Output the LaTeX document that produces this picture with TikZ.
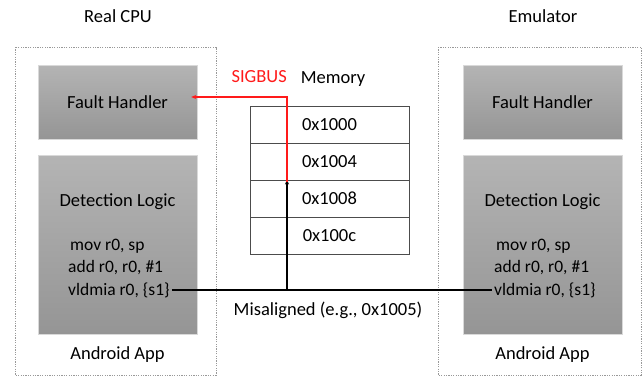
\documentclass[tikz,border=0pt]{standalone}
\usepackage{fontspec}
\setmainfont{Carlito}
\usetikzlibrary{arrows.meta,positioning}
\definecolor{boxtop}{HTML}{B4B4B4}
\definecolor{boxbot}{HTML}{959595}
\definecolor{sigred}{HTML}{FF1A1A}
\tikzset{>={Stealth[length=5pt,width=4pt]}}
\tikzset{
  cpubox/.style={draw=gray!80,dash pattern=on 1.2pt off 1.2pt,line width=0.8pt},
  unit/.style={draw=gray!30,top color=boxtop,bottom color=boxbot,minimum width=159pt,inner sep=0pt},
  cell/.style={draw=gray!60!black,line width=1pt,minimum width=159pt,minimum height=37pt,inner sep=0pt,font=\fontsize{18.5}{20}\selectfont},
  lbl/.style={font=\fontsize{18.5}{20}\selectfont},
  code/.style={anchor=west,inner sep=0pt,font=\fontsize{17.5}{19}\selectfont}
}
\begin{document}
\begin{tikzpicture}[x=1pt,y=-1pt]
    \useasboundingbox (0,0) rectangle (642,376);
%   real cpu side
    \draw[cpubox] (15,47) rectangle (216,375);
    \node[lbl] (titleL) at (118,16) {Real CPU};
    \node[unit,minimum height=74pt] (fhL) at (117.5,102) {};
    \node[lbl] at (fhL) {Fault Handler};
    \node[unit,minimum height=179pt] (dlL) at (117.5,244.5) {};
    \node[lbl] (dlLt) at (117.5,202) {Detection Logic};
    \node[code] (codeL1) at (70,246) {mov r0, sp};
    \node[code] (codeL2) at (68,268) {add r0, r0, \#1};
    \node[code] (codeL3) at (68,290) {vldmia r0, \{s1\}};
    \node[lbl] (appL) at (117.5,355) {Android App};
%   emulator side
    \draw[cpubox] (438,47) rectangle (641,375);
    \node[lbl] (titleR) at (543,16) {Emulator};
    \node[unit,minimum height=74pt] (fhR) at (542.5,102) {};
    \node[lbl] at (fhR) {Fault Handler};
    \node[unit,minimum height=179pt] (dlR) at (542.5,244.5) {};
    \node[lbl] (dlRt) at (542.5,202) {Detection Logic};
    \node[code] (codeR1) at (496,246) {mov r0, sp};
    \node[code] (codeR2) at (494,268) {add r0, r0, \#1};
    \node[code] (codeR3) at (494,290) {vldmia r0, \{s1\}};
    \node[lbl] (appR) at (542.5,355) {Android App};
%   memory
    \node[lbl] (memt) at (333,79) {Memory};
    \node[cell] (m1) at (329.5,124.5) {0x1000};
    \node[cell] (m2) at (329.5,161.5) {0x1004};
    \node[cell] (m3) at (329.5,198.5) {0x1008};
    \node[cell] (m4) at (329.5,235.5) {0x100c};
    \node[lbl] (mis) at (328,310) {Misaligned (e.g., 0x1005)};
%   access and fault
    \coordinate (hit) at (287,290);
    \coordinate (turn) at (287,97);
    \coordinate (fhtip) at ([xshift=-6pt]fhL.east);
    \draw[line width=1.2pt] ([xshift=2pt]codeL3.east) -- ([xshift=-2pt]codeR3.west);
    \draw[->,line width=1.2pt] (hit) -- (hit |- m3.north);
    \draw[->,sigred,line width=1.2pt] ([yshift=-2pt]hit |- m3.north) -- (turn) -- (turn -| fhtip);
    \node[lbl,text=sigred,anchor=south east,inner sep=0pt] (sig) at (287,83) {SIGBUS};
\end{tikzpicture}
\end{document}
